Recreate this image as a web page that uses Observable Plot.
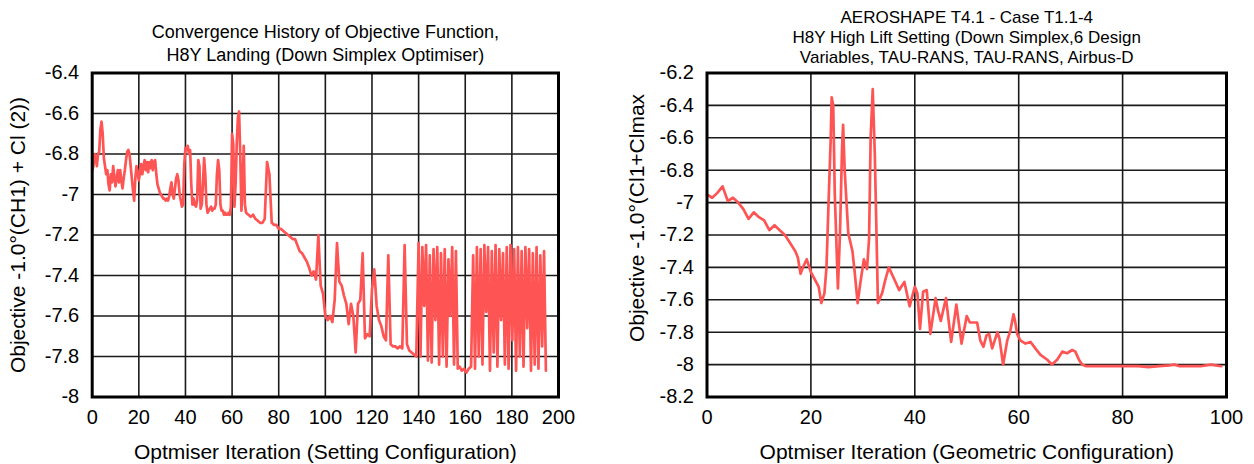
<!DOCTYPE html>
<html>
<head>
<meta charset="utf-8">
<script src="https://cdn.jsdelivr.net/npm/d3@7"></script>
<script src="https://cdn.jsdelivr.net/npm/@observablehq/plot@0.6"></script>
<style>
  html, body { margin: 0; padding: 0; background: #fff; }
  #wrap { display: flex; flex-direction: row; width: 1254px; height: 464px; }
  #wrap svg { display: block; }
</style>
</head>
<body>
<div id="wrap"><div id="left"></div><div id="right"></div></div>
<script>
// ---- Setting configuration run (left panel) ----
const leftTitle = "Convergence History of Objective Function,\nH8Y Landing (Down Simplex Optimiser)";
const leftXLabel = "Optmiser Iteration (Setting Configuration)";
const leftYLabel = "Objective -1.0°(CH1) + Cl (2))";
const leftXTicks = [0, 20, 40, 60, 80, 100, 120, 140, 160, 180, 200];
const leftYTicks = [-6.4, -6.6, -6.8, -7, -7.2, -7.4, -7.6, -7.8, -8];
// [iteration, objective] for every function evaluation
const leftHistory = [
  [0, -6.88], [0.5, -6.86], [1, -6.80], [1.5, -6.82], [2, -6.86], [2.5, -6.80], [3, -6.79], [3.5, -6.68],
  [4, -6.64], [4.5, -6.70], [5, -6.82], [5.5, -6.86], [6, -6.90], [6.5, -6.88], [7, -6.95], [7.5, -6.98],
  [8, -6.90], [8.5, -6.94], [9, -6.86], [9.5, -6.91], [10, -6.96], [10.5, -6.92], [11, -6.88], [11.5, -6.94],
  [12, -6.88], [12.5, -6.93], [13, -6.97], [13.5, -6.92], [14, -6.88], [14.5, -6.83], [15, -6.79], [15.5, -6.78],
  [16, -6.80], [16.5, -6.86], [17, -6.92], [17.5, -6.98], [18, -7.03], [18.5, -6.92], [19, -6.86], [19.5, -6.89],
  [20, -6.93], [20.5, -6.89], [21, -6.85], [21.5, -6.90], [22, -6.86], [22.5, -6.83], [23, -6.88], [23.5, -6.84],
  [24, -6.89], [24.5, -6.84], [25, -6.87], [25.5, -6.83], [26, -6.88], [26.5, -6.84], [27, -6.83], [27.5, -6.90],
  [28, -6.95], [28.5, -6.97], [29, -6.99], [29.5, -7.00], [30, -7.01], [30.5, -7.02], [31, -7.02], [31.5, -7.03],
  [32, -7.02], [32.5, -7.03], [33, -7.01], [33.5, -6.97], [34, -6.94], [34.5, -7.00], [35, -7.02], [35.5, -6.97],
  [36, -6.92], [36.5, -6.90], [37, -6.93], [37.5, -7.00], [38, -7.03], [38.5, -7.06], [39, -7.05], [39.5, -6.85],
  [40, -6.77], [40.5, -6.78], [41, -6.76], [41.5, -6.80], [42, -6.78], [42.5, -6.95], [43, -7.05], [43.5, -7.02],
  [44, -7.05], [44.5, -7.06], [45, -7.03], [45.5, -6.83], [46, -6.86], [46.5, -7.07], [47, -7.05], [47.5, -6.95],
  [48, -6.82], [48.5, -6.90], [49, -7.05], [49.5, -7.09], [50, -7.08], [50.5, -7.07], [51, -7.06], [51.5, -7.08],
  [52, -7.07], [52.5, -7.07], [53, -7.05], [53.5, -6.90], [54, -6.83], [54.5, -6.88], [55, -7.05], [55.5, -7.08],
  [56, -7.08], [56.5, -7.10], [57, -7.09], [57.5, -7.10], [58, -7.10], [58.5, -7.09], [59, -7.10], [59.5, -7.06],
  [60, -6.70], [60.5, -6.75], [61, -7.06], [61.5, -6.95], [62, -6.75], [62.5, -6.62], [63, -6.59], [63.5, -6.80],
  [64, -7.08], [64.5, -6.95], [65, -6.76], [65.5, -7.05], [66, -7.09],
  [67, -7.10], [68, -7.11], [69, -7.10], [70, -7.12], [71, -7.13], [72, -7.14], [73, -7.14], [74, -7.12],
  [75, -6.84], [76, -6.90], [77, -7.14], [78, -7.15], [79, -7.15], [80, -7.17], [81, -7.17], [82, -7.18],
  [83, -7.19], [84, -7.20], [85, -7.21], [86, -7.22], [87, -7.22], [88, -7.25], [89, -7.28], [90, -7.29],
  [91, -7.31], [92, -7.33], [93, -7.36], [94, -7.40], [95, -7.38], [96, -7.42], [97, -7.20], [98, -7.45],
  [99, -7.49], [100, -7.60], [101, -7.62], [102, -7.60], [103, -7.63], [104, -7.52], [105, -7.24], [106, -7.43],
  [107, -7.45], [108, -7.50], [109, -7.54], [110, -7.64], [111, -7.54], [112, -7.60], [113, -7.78], [114, -7.54],
  [115, -7.52], [116, -7.29], [117, -7.71], [118, -7.69], [119, -7.70], [120, -7.47], [121, -7.37], [122, -7.55],
  [123, -7.62], [124, -7.65], [125, -7.70], [126, -7.72], [127, -7.30], [128, -7.74], [129, -7.75], [130, -7.75],
  [131, -7.76], [132, -7.75], [133, -7.76], [134, -7.25], [135, -7.74], [136, -7.77], [137, -7.78], [138, -7.79],
  [139, -7.80],
  [140, -7.24], [140.8, -7.80], [141.6, -7.26], [142.4, -7.55], [143.2, -7.25], [144, -7.82], [144.8, -7.30], [145.6, -7.83],
  [146.4, -7.27], [147.2, -7.62], [148, -7.26], [148.8, -7.84], [149.6, -7.29], [150.4, -7.80], [151.2, -7.27], [152, -7.85],
  [152.8, -7.32], [153.6, -7.60], [154.4, -7.26], [155.2, -7.84], [156, -7.28], [156.8, -7.86], [157.6, -7.85], [158.5, -7.87],
  [159.5, -7.86], [160.5, -7.88], [161.5, -7.86], [162.5, -7.85],
  [163.4, -7.30], [164.2, -7.86], [165, -7.26], [165.8, -7.80], [166.6, -7.27], [167.4, -7.84], [168.2, -7.25], [169, -7.58],
  [169.8, -7.26], [170.6, -7.87], [171.4, -7.28], [172.2, -7.78], [173, -7.25], [173.8, -7.85], [174.6, -7.27], [175.4, -7.62],
  [176.2, -7.29], [177, -7.84], [177.8, -7.26], [178.6, -7.86], [179.4, -7.25], [180.2, -7.72], [181, -7.27], [181.8, -7.87],
  [182.6, -7.26], [183.4, -7.80], [184.2, -7.28], [185, -7.85], [185.8, -7.26], [186.6, -7.66], [187.4, -7.27], [188.2, -7.87],
  [189, -7.29], [189.8, -7.84], [190.6, -7.26], [191.4, -7.86], [192.2, -7.30], [193, -7.75], [193.8, -7.28], [194.6, -7.87]
];

// ---- Geometric configuration run (right panel) ----
const rightTitle = "AEROSHAPE T4.1 - Case T1.1-4\nH8Y High Lift Setting (Down Simplex,6 Design\nVariables, TAU-RANS, TAU-RANS, Airbus-D";
const rightXLabel = "Optmiser Iteration (Geometric Configuration)";
const rightYLabel = "Objective -1.0°(Cl1+Clmax";
const rightXTicks = [0, 20, 40, 60, 80, 100];
const rightYTicks = [-6.2, -6.4, -6.6, -6.8, -7, -7.2, -7.4, -7.6, -7.8, -8, -8.2];
const rightIteration = [
  0, 1, 2, 3, 4, 5, 6, 7, 8, 9,
  10, 11, 12, 13, 14, 15, 16, 17, 17.5, 18,
  18.6, 19.2, 20, 21, 21.5, 22, 22.6, 23, 23.4, 23.8,
  24, 24.3, 24.6, 25.2, 25.6, 26, 26.2, 26.5, 27.2, 28,
  28.4, 29, 29.5, 30.2, 30.8, 31.2, 31.5, 31.9, 32.3, 32.6,
  32.9, 33.7, 34.3, 35, 36, 37, 38, 39, 40, 40.5,
  41, 41.6, 42.3, 43, 44, 44.5, 45, 46, 47, 48,
  49, 50, 50.6, 51.5, 52, 52.6, 53.2, 53.8, 54.3, 54.9,
  55.9, 56.3, 57, 57.8, 58.4, 59, 59.3, 59.7, 60.3, 61.3,
  62.3, 63.2, 64.2, 65.5, 66.4, 67.4, 68.4, 69.3, 70.3, 70.9,
  71.6, 72.2, 73, 75, 77, 79, 81, 83, 85, 87,
  89, 90, 91, 93, 95, 97, 99
];
const rightObjective = [
  -6.95, -6.97, -6.94, -6.90, -6.99, -6.97, -7.00, -7.04, -7.10, -7.06,
  -7.09, -7.11, -7.17, -7.14, -7.17, -7.20, -7.25, -7.30, -7.34, -7.44,
  -7.39, -7.35, -7.43, -7.49, -7.52, -7.62, -7.56, -7.40, -7.00, -6.62,
  -6.35, -6.40, -6.95, -7.53, -7.19, -6.66, -6.52, -6.80, -7.19, -7.30,
  -7.42, -7.62, -7.50, -7.35, -7.41, -7.22, -6.60, -6.30, -6.70, -7.15,
  -7.62, -7.56, -7.48, -7.40, -7.47, -7.54, -7.49, -7.64, -7.52, -7.56,
  -7.78, -7.55, -7.54, -7.81, -7.59, -7.67, -7.73, -7.59, -7.86, -7.63,
  -7.87, -7.70, -7.74, -7.74, -7.74, -7.85, -7.89, -7.82, -7.81, -7.90,
  -7.80, -7.84, -8.00, -7.85, -7.79, -7.69, -7.73, -7.81, -7.85, -7.87,
  -7.86, -7.90, -7.94, -7.97, -8.00, -7.97, -7.92, -7.93, -7.91, -7.92,
  -7.97, -8.00, -8.01, -8.01, -8.01, -8.01, -8.01, -8.01, -8.015, -8.01,
  -8.005, -8.00, -8.01, -8.01, -8.01, -8.00, -8.01
];

const FONT = "'Liberation Sans', Arial, Helvetica, sans-serif";
const LINE_COLOR = "#ff5454";
const fmt = d => String(+d.toFixed(1));

function panel({width, marginLeft, marginRight, xDomain, yDomain, xTicks, yTicks,
                rows, title, titleDy, titleSize, titleLead,
                xLabel, yLabel, yLabelDx, yLabelDy}) {
  return Plot.plot({
    width, height: 464,
    marginLeft, marginRight, marginTop: 72.5, marginBottom: 67.5,
    style: {fontFamily: FONT, background: "#fff", color: "#000", overflow: "visible"},
    x: {domain: xDomain},
    y: {domain: yDomain},
    marks: [
      Plot.gridX(xTicks, {stroke: "#1a1a1a", strokeOpacity: 1, strokeWidth: 1.6}),
      Plot.gridY(yTicks, {stroke: "#1a1a1a", strokeOpacity: 1, strokeWidth: 1.6}),
      Plot.line(rows, {x: "iter", y: "value", stroke: LINE_COLOR, strokeWidth: 2.7,
                       strokeLinejoin: "round", strokeLinecap: "round"}),
      Plot.frame({stroke: "#000", strokeWidth: 3}),
      Plot.axisX(xTicks, {tickSize: 0, tickPadding: 13, fontSize: 20, label: null, tickFormat: d => String(d)}),
      Plot.axisY(yTicks, {tickSize: 0, tickPadding: 13, fontSize: 20, label: null, tickFormat: fmt}),
      Plot.text([xLabel], {frameAnchor: "bottom", dy: 55, fontSize: 21, fill: "#000",
                           textAnchor: "middle", lineAnchor: "middle"}),
      Plot.text([yLabel], {frameAnchor: "left", dx: yLabelDx, dy: yLabelDy, rotate: -90, fontSize: 21, fill: "#000",
                           textAnchor: "middle", lineAnchor: "middle"}),
      Plot.text([title], {frameAnchor: "top", dy: titleDy, fontSize: titleSize, lineHeight: titleLead, fill: "#000",
                          textAnchor: "middle", lineAnchor: "middle"})
    ]
  });
}

document.getElementById("left").append(panel({
  width: 620, marginLeft: 91.7, marginRight: 62,
  xDomain: [0, 200], yDomain: [-8, -6.4],
  xTicks: leftXTicks, yTicks: leftYTicks,
  rows: leftHistory.map(([iter, value]) => ({iter, value})),
  title: leftTitle, titleDy: -31, titleSize: 18, titleLead: 1.28,
  xLabel: leftXLabel, yLabel: leftYLabel, yLabelDx: -74, yLabelDy: 0
}));

document.getElementById("right").append(panel({
  width: 634, marginLeft: 86.5, marginRight: 28,
  xDomain: [0, 100], yDomain: [-8.2, -6.2],
  xTicks: rightXTicks, yTicks: rightYTicks,
  rows: rightObjective.map((value, i) => ({iter: rightIteration[i], value})),
  title: rightTitle, titleDy: -36.5, titleSize: 17, titleLead: 1.16,
  xLabel: rightXLabel, yLabel: rightYLabel, yLabelDx: -70, yLabelDy: -17
}));
</script>
</body>
</html>
